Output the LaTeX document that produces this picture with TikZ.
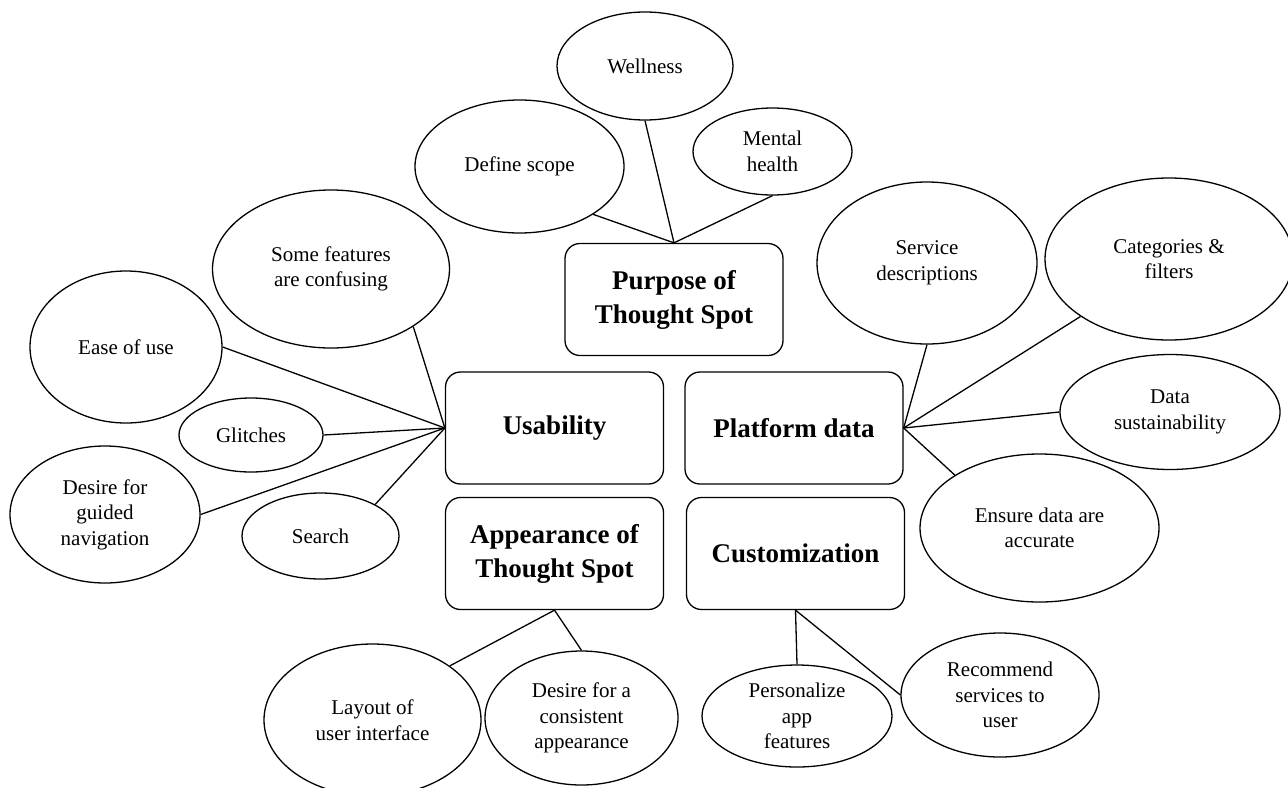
\documentclass[tikz,border=0pt]{standalone}
\usepackage{fontspec}
\setmainfont{Liberation Serif}
\usetikzlibrary{shapes.geometric}

\begin{document}
\begin{tikzpicture}[x=0.5pt,y=-0.5pt,line width=0.65pt,
   topic/.style={draw,rounded corners=7.5pt,minimum width=109pt,minimum height=56pt,align=center,inner sep=0pt,font=\fontsize{13.5}{17}\selectfont\bfseries},
   leaf/.style 2 args={ellipse,draw,inner sep=0pt,minimum width=#1pt,minimum height=#2pt,align=center,font=\fontsize{10.5}{12.75}\selectfont}]
 \useasboundingbox (0,0) rectangle (1288,787);
 % main topics
 \node[topic] (purp) at (674,299.5) {Purpose of\\Thought Spot};
 \node[topic] (usab) at (554.5,428) {Usability};
 \node[topic] (pdata) at (794,428) {Platform data};
 \node[topic] (appear) at (554.5,553.5) {Appearance of\\Thought Spot};
 \node[topic] (custom) at (795.5,553.5) {Customization};
 % sub topics
 \node[leaf={88}{54}] (well) at (645,66) {Wellness};
 \node[leaf={104.5}{66.5}] (scope) at (519.5,166.5) {Define scope};
 \node[leaf={79.5}{43.5}] (mental) at (772.5,151.5) {Mental\\health};
 \node[leaf={118.5}{79}] (confuse) at (331,269) {Some features\\are confusing};
 \node[leaf={96}{76}] (ease) at (126,347) {Ease of use};
 \node[leaf={72}{37}] (glitch) at (251,435) {Glitches};
 \node[leaf={95}{68.5}] (guided) at (105,514.5) {Desire for\\guided\\navigation};
 \node[leaf={78.5}{43}] (search) at (320.5,536) {Search};
 \node[leaf={110}{81}] (servdesc) at (927,263) {Service\\descriptions};
 \node[leaf={124}{81}] (catfilt) at (1169,259) {Categories \&\\filters};
 \node[leaf={110}{57.5}] (sustain) at (1170,412) {Data\\sustainability};
 \node[leaf={119.5}{74}] (accurate) at (1039.5,528) {Ensure data are\\accurate};
 \node[leaf={108.5}{76}] (layout) at (372.5,720) {Layout of\\user interface};
 \node[leaf={96.5}{67}] (consist) at (581.5,718) {Desire for a\\consistent\\appearance};
 \node[leaf={95}{51}] (personal) at (797,716) {Personalize\\app\\features};
 \node[leaf={99}{62}] (recomm) at (1000,695) {Recommend\\services to\\user};
 % links
 \foreach \n in {scope.-33,well.south,mental.south} \draw (purp.north) -- (\n);
 \foreach \n in {confuse.-35,ease.east,glitch.east,guided.east,search.30} \draw (usab.west) -- (\n);
 \foreach \n in {servdesc.south,catfilt.213,sustain.west,accurate.148} \draw (pdata.east) -- (\n);
 \foreach \n in {layout.35,consist.north} \draw (appear.south) -- (\n);
 \foreach \n in {personal.north,recomm.west} \draw (custom.south) -- (\n);
\end{tikzpicture}
\end{document}
